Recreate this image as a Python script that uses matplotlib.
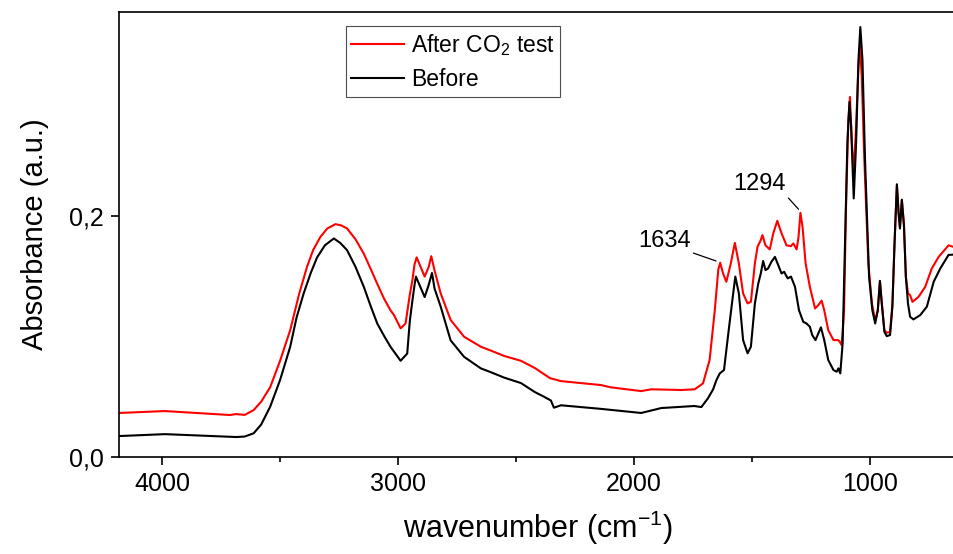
import matplotlib
matplotlib.use('Agg')
import matplotlib.pyplot as plt
from matplotlib.ticker import MultipleLocator, FixedLocator

plt.rcParams['font.family'] = ['Liberation Sans', 'DejaVu Sans']
plt.rcParams['mathtext.fontset'] = 'custom'
plt.rcParams['mathtext.rm'] = 'Liberation Sans'
plt.rcParams['mathtext.it'] = 'Liberation Sans:italic'

# FTIR spectrum after the CO2 test (wavenumber cm-1, absorbance)
after_wn = [4183, 3988, 3712, 3686, 3650, 3612, 3580, 3542, 3500, 3457, 3420, 3386,
            3360, 3329, 3300, 3265, 3240, 3216, 3180, 3145, 3115, 3088, 3060, 3032,
            3017, 2989, 2968, 2950, 2939, 2930, 2921, 2887, 2870, 2859, 2845, 2819,
            2777, 2720, 2649, 2600, 2550, 2479, 2420, 2394, 2356, 2309, 2139, 2100,
            1969, 1926, 1799, 1742, 1707, 1679, 1657, 1642, 1634, 1622, 1608, 1589,
            1572, 1555, 1537, 1518, 1504, 1487, 1476, 1463, 1455, 1442, 1424, 1409,
            1392, 1374, 1353, 1334, 1324, 1310, 1302, 1294, 1285, 1272, 1254, 1232,
            1218, 1204, 1193, 1176, 1154, 1136, 1129, 1119, 1109, 1101, 1091, 1084,
            1077, 1069, 1060, 1048, 1041, 1034, 1023, 1006, 991, 977, 966, 957, 949,
            938, 928, 914, 904, 895, 885, 878, 872, 864, 855, 847, 838, 829, 819, 793,
            765, 737, 708, 666, 637]
after_abs = [0.0366, 0.0382, 0.0349, 0.0357, 0.035, 0.039, 0.046, 0.058, 0.080, 0.1055,
             0.135, 0.158, 0.172, 0.183, 0.190, 0.1936, 0.1925, 0.190, 0.181, 0.169,
             0.156, 0.144, 0.132, 0.122, 0.118, 0.107, 0.111, 0.135, 0.147, 0.160,
             0.166, 0.150, 0.158, 0.167, 0.155, 0.136, 0.114, 0.100, 0.0917, 0.088,
             0.084, 0.0800, 0.074, 0.0706, 0.0656, 0.0631, 0.0598, 0.058, 0.0548, 0.0563,
             0.0557, 0.0563, 0.0612, 0.0806, 0.122, 0.156, 0.1615, 0.1526, 0.1457, 0.161,
             0.178, 0.161, 0.136, 0.1277, 0.129, 0.161, 0.1747, 0.180, 0.1845, 0.176,
             0.1726, 0.186, 0.1964, 0.186, 0.176, 0.1753, 0.1776, 0.1726, 0.183, 0.203,
             0.1914, 0.161, 0.1415, 0.1235, 0.1263, 0.130, 0.122, 0.1055, 0.0972, 0.0972,
             0.0964, 0.093, 0.122, 0.205, 0.280, 0.2994, 0.266, 0.2357, 0.266, 0.3243,
             0.341, 0.316, 0.2468, 0.161, 0.1277, 0.1133, 0.122, 0.1457, 0.1277, 0.1055,
             0.1033, 0.104, 0.1277, 0.1776, 0.226, 0.205, 0.1914, 0.2135, 0.194, 0.150,
             0.136, 0.1346, 0.129, 0.1332, 0.1415, 0.1568, 0.1664, 0.176, 0.1742]

# FTIR spectrum before the test
before_wn = [4183, 3988, 3686, 3650, 3612, 3580, 3542, 3500, 3457, 3430, 3400, 3370,
             3343, 3310, 3272, 3245, 3216, 3180, 3145, 3115, 3088, 3060, 3032, 2989,
             2961, 2950, 2939, 2930, 2924, 2887, 2870, 2856, 2845, 2819, 2777, 2720,
             2649, 2600, 2550, 2479, 2420, 2380, 2352, 2339, 2309, 2139, 1969, 1884,
             1744, 1714, 1686, 1664, 1650, 1636, 1618, 1598, 1579, 1570, 1555, 1537,
             1518, 1504, 1487, 1473, 1462, 1452, 1442, 1431, 1417, 1402, 1388, 1374,
             1363, 1348, 1334, 1317, 1300, 1282, 1268, 1254, 1244, 1230, 1218, 1207,
             1193, 1176, 1154, 1140, 1133, 1125, 1115, 1105, 1095, 1086, 1079, 1068,
             1058, 1048, 1040, 1031, 1020, 1003, 989, 977, 966, 957, 949, 938, 928,
             914, 904, 895, 885, 878, 872, 864, 855, 847, 838, 829, 815, 786, 758,
             729, 701, 666, 637]
before_abs = [0.0174, 0.019, 0.0166, 0.0170, 0.0197, 0.027, 0.0418, 0.064, 0.0917, 0.116,
              0.136, 0.153, 0.166, 0.176, 0.1817, 0.178, 0.172, 0.158, 0.1415, 0.125,
              0.111, 0.101, 0.0917, 0.080, 0.086, 0.113, 0.130, 0.143, 0.150, 0.133,
              0.143, 0.153, 0.140, 0.125, 0.097, 0.0833, 0.0737, 0.070, 0.066, 0.0615,
              0.054, 0.050, 0.047, 0.041, 0.043, 0.040, 0.0366, 0.0407, 0.0424, 0.0415,
              0.0488, 0.0563, 0.064, 0.0695, 0.0723, 0.1055, 0.136, 0.150, 0.136, 0.0972,
              0.0862, 0.0917, 0.1277, 0.144, 0.1526, 0.163, 0.1554, 0.1568, 0.1623, 0.1664,
              0.1595, 0.1526, 0.154, 0.1485, 0.150, 0.1415, 0.122, 0.1124, 0.111, 0.1083,
              0.1014, 0.0972, 0.1028, 0.1078, 0.0972, 0.0806, 0.0723, 0.0709, 0.0737, 0.0695,
              0.0945, 0.1776, 0.2607, 0.2952, 0.2745, 0.215, 0.2607, 0.330, 0.3575, 0.330,
              0.2468, 0.150, 0.122, 0.111, 0.122, 0.1465, 0.1277, 0.104, 0.1005, 0.1014,
              0.125, 0.1776, 0.2268, 0.2025, 0.190, 0.214, 0.1914, 0.150, 0.1277, 0.1166,
              0.1144, 0.118, 0.125, 0.1457, 0.1568, 0.168, 0.1684]

fig = plt.figure(figsize=(9.54, 5.54), dpi=100)
ax = fig.add_axes([0.1247, 0.1751, 0.8775, 0.8032])

ax.plot(after_wn, after_abs, color='red', lw=1.5, label='After CO$_2$ test')
ax.plot(before_wn, before_abs, color='black', lw=1.5, label='Before')

ax.set_xlim(4183, 634)
ax.set_ylim(0, 0.37)
ax.xaxis.set_major_locator(FixedLocator([4000, 3000, 2000, 1000]))
ax.xaxis.set_minor_locator(MultipleLocator(500))
ax.set_yticks([0.0, 0.2])
ax.set_yticklabels(['0,0', '0,2'])

for s in ax.spines.values():
    s.set_linewidth(1.2)
ax.tick_params(which='major', direction='out', length=6, width=1.2, labelsize=18, pad=5)
ax.tick_params(which='minor', direction='out', length=3.5, width=1.2)

ax.set_xlabel('wavenumber (cm$^{-1}$)', fontsize=22, labelpad=9)
ax.set_ylabel('Absorbance (a.u.)', fontsize=21, labelpad=14)

ax.annotate('1634', xy=(1652, 0.163), xytext=(1871, 0.1795), fontsize=17,
            ha='center', va='center',
            arrowprops=dict(arrowstyle='-', color='black', lw=0.9,
                            relpos=(1, 0), shrinkA=0, shrinkB=0))
ax.annotate('1294', xy=(1302, 0.206), xytext=(1467, 0.2268), fontsize=17,
            ha='center', va='center',
            arrowprops=dict(arrowstyle='-', color='black', lw=0.9,
                            relpos=(1, 0), shrinkA=0, shrinkB=0))

leg = ax.legend(loc='upper left', bbox_to_anchor=(0.2707, 0.9685), borderaxespad=0,
                fontsize=16.5, fancybox=False, handlelength=2.3, handletextpad=0.3,
                labelspacing=0.45, borderpad=0.25, framealpha=1)
leg.get_frame().set_edgecolor('0.3')
leg.get_frame().set_linewidth(0.8)

fig.savefig('out.png', dpi=100)
